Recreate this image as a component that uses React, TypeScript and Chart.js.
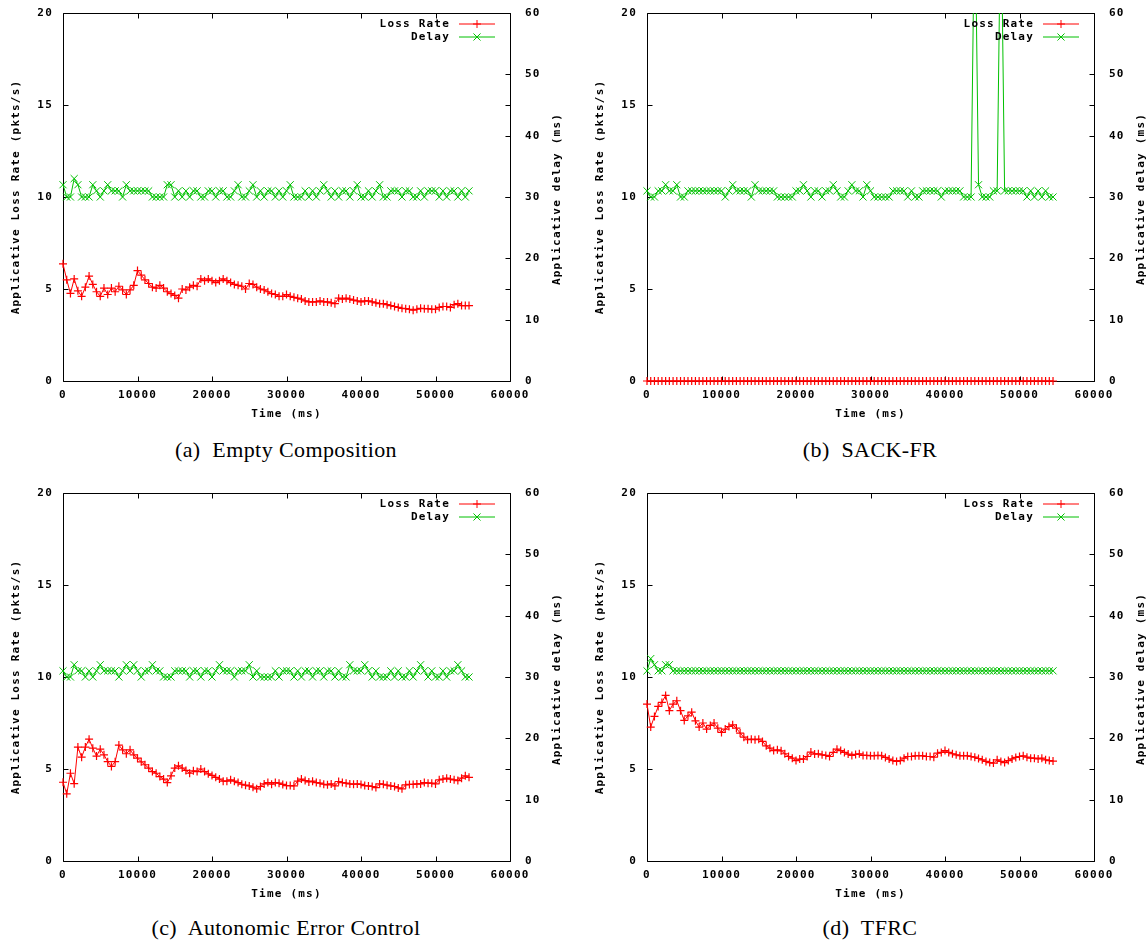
import React, { useEffect, useRef } from 'react';
import { Chart, registerables } from 'chart.js';

Chart.register(...registerables);

// ---------- data ----------
const TIME_MS = [
  0, 500, 1000, 1500, 2000, 2500, 3000, 3500, 4000, 4500,
  5000, 5500, 6000, 6500, 7000, 7500, 8000, 8500, 9000, 9500,
  10000, 10500, 11000, 11500, 12000, 12500, 13000, 13500, 14000, 14500,
  15000, 15500, 16000, 16500, 17000, 17500, 18000, 18500, 19000, 19500,
  20000, 20500, 21000, 21500, 22000, 22500, 23000, 23500, 24000, 24500,
  25000, 25500, 26000, 26500, 27000, 27500, 28000, 28500, 29000, 29500,
  30000, 30500, 31000, 31500, 32000, 32500, 33000, 33500, 34000, 34500,
  35000, 35500, 36000, 36500, 37000, 37500, 38000, 38500, 39000, 39500,
  40000, 40500, 41000, 41500, 42000, 42500, 43000, 43500, 44000, 44500,
  45000, 45500, 46000, 46500, 47000, 47500, 48000, 48500, 49000, 49500,
  50000, 50500, 51000, 51500, 52000, 52500, 53000, 53500, 54000, 54500,
];

const TIME_TICKS = [0, 10000, 20000, 30000, 40000, 50000, 60000];
const LOSS_TICKS = [0, 5, 10, 15, 20];
const DELAY_TICKS = [0, 10, 20, 30, 40, 50, 60];

const SERIES_LABELS = ['Loss Rate', 'Delay'];
const X_TITLE = 'Time (ms)';
const Y_TITLE = 'Applicative Loss Rate (pkts/s)';
const Y2_TITLE = 'Applicative delay (ms)';
const CAPTIONS = [
  '(a)  Empty Composition',
  '(b)  SACK-FR',
  '(c)  Autonomic Error Control',
  '(d)  TFRC',
];

// (a) Empty Composition
const LOSS_A = [
  6.37, 5.5, 4.76, 5.55, 4.9, 4.6, 5.1, 5.7, 5.25, 4.85,
  4.6, 5.05, 4.7, 5.05, 4.85, 5.15, 4.95, 4.7, 4.95, 5.2,
  6.0, 5.75, 5.5, 5.3, 5.1, 5.05, 5.2, 5.05, 4.85, 4.75,
  4.65, 4.5, 5.0, 4.95, 5.1, 5.2, 5.15, 5.55, 5.45, 5.55,
  5.45, 5.35, 5.45, 5.55, 5.45, 5.35, 5.25, 5.2, 5.15, 5.0,
  5.3, 5.25, 5.1, 5.0, 4.95, 4.85, 4.75, 4.7, 4.6, 4.6,
  4.7, 4.6, 4.55, 4.5, 4.45, 4.35, 4.3, 4.3, 4.3, 4.35,
  4.3, 4.3, 4.25, 4.2, 4.5, 4.45, 4.5, 4.45, 4.4, 4.35,
  4.3, 4.35, 4.35, 4.3, 4.25, 4.2, 4.2, 4.15, 4.1, 4.05,
  4.0, 3.95, 3.93, 3.9, 3.85, 3.9, 3.95, 3.93, 3.93, 3.9,
  3.9, 4.0, 4.05, 4.05, 4.0, 4.15, 4.2, 4.1, 4.1, 4.1,
];
const DELAY_A = [
  32, 30, 30, 33, 32, 30, 30, 30, 32, 31,
  30, 31, 32, 31, 31, 31, 30, 32, 31, 31,
  31, 31, 31, 31, 30, 30, 30, 30, 32, 32,
  30, 31, 30, 31, 30, 31, 31, 30, 30, 31,
  31, 30, 31, 31, 30, 30, 31, 32, 30, 30,
  31, 32, 30, 31, 30, 31, 31, 30, 31, 30,
  31, 32, 30, 30, 30, 31, 30, 31, 30, 31,
  32, 31, 30, 31, 30, 31, 31, 30, 31, 32,
  30, 30, 31, 30, 31, 32, 30, 30, 31, 31,
  31, 30, 31, 31, 30, 30, 31, 30, 31, 31,
  31, 30, 31, 30, 31, 31, 30, 31, 30, 31,
];

// (b) SACK-FR
const LOSS_B = [
  0, 0, 0, 0, 0, 0, 0, 0, 0, 0,
  0, 0, 0, 0, 0, 0, 0, 0, 0, 0,
  0, 0, 0, 0, 0, 0, 0, 0, 0, 0,
  0, 0, 0, 0, 0, 0, 0, 0, 0, 0,
  0, 0, 0, 0, 0, 0, 0, 0, 0, 0,
  0, 0, 0, 0, 0, 0, 0, 0, 0, 0,
  0, 0, 0, 0, 0, 0, 0, 0, 0, 0,
  0, 0, 0, 0, 0, 0, 0, 0, 0, 0,
  0, 0, 0, 0, 0, 0, 0, 0, 0, 0,
  0, 0, 0, 0, 0, 0, 0, 0, 0, 0,
  0, 0, 0, 0, 0, 0, 0, 0, 0, 0,
];
const DELAY_B = [
  31, 30, 30, 31, 31, 32, 31, 31, 32, 30,
  30, 31, 31, 31, 31, 31, 31, 31, 31, 31,
  31, 30, 31, 32, 31, 31, 31, 31, 30, 32,
  31, 31, 31, 31, 31, 30, 30, 30, 30, 30,
  31, 31, 32, 31, 30, 31, 31, 30, 31, 31,
  32, 31, 30, 30, 31, 32, 31, 31, 30, 32,
  31, 30, 30, 30, 30, 30, 31, 31, 31, 31,
  30, 31, 30, 30, 31, 31, 31, 31, 31, 30,
  31, 31, 31, 31, 31, 30, 30, 30, 80, 32,
  30, 30, 30, 31, 31, 80, 31, 31, 31, 31,
  31, 31, 30, 31, 30, 31, 30, 31, 30, 30,
];

// (c) Autonomic Error Control
const LOSS_C = [
  4.28, 3.65, 4.77, 4.2, 6.19, 5.64, 6.19, 6.62, 6.13, 5.7,
  6.08, 5.77, 5.4, 5.14, 5.4, 6.3, 6.04, 5.83, 6.04, 5.77,
  5.59, 5.39, 5.23, 5.05, 4.86, 4.77, 4.59, 4.45, 4.26, 4.63,
  5.05, 5.17, 5.05, 4.92, 4.77, 4.9, 4.86, 5.0, 4.86, 4.74,
  4.65, 4.55, 4.45, 4.34, 4.34, 4.41, 4.34, 4.26, 4.17, 4.12,
  4.08, 4.01, 3.92, 4.05, 4.19, 4.26, 4.17, 4.26, 4.23, 4.16,
  4.1, 4.1, 4.08, 4.34, 4.45, 4.37, 4.3, 4.34, 4.26, 4.23,
  4.17, 4.14, 4.19, 4.08, 4.32, 4.26, 4.23, 4.19, 4.17, 4.19,
  4.16, 4.1, 4.08, 4.05, 3.99, 4.19, 4.17, 4.12, 4.08, 4.05,
  3.97, 3.92, 4.14, 4.16, 4.16, 4.19, 4.19, 4.26, 4.23, 4.23,
  4.19, 4.41, 4.45, 4.5, 4.45, 4.41, 4.37, 4.5, 4.63, 4.55,
];
const DELAY_C = [
  31, 30, 30, 32, 31, 31, 30, 31, 30, 31,
  32, 31, 31, 31, 31, 30, 31, 32, 31, 32,
  31, 30, 31, 31, 32, 31, 31, 30, 30, 30,
  31, 31, 31, 31, 30, 31, 31, 30, 31, 31,
  30, 31, 32, 31, 31, 31, 30, 31, 31, 31,
  32, 30, 31, 30, 30, 30, 30, 31, 30, 31,
  31, 31, 30, 31, 30, 31, 31, 30, 31, 31,
  30, 31, 31, 30, 31, 30, 30, 32, 31, 31,
  31, 32, 31, 30, 31, 30, 30, 30, 31, 30,
  31, 30, 30, 31, 30, 31, 32, 31, 30, 31,
  30, 30, 31, 30, 31, 31, 32, 31, 30, 30,
];

// (d) TFRC
const LOSS_D = [
  8.53, 7.28, 7.86, 8.4, 8.62, 9.0, 8.17, 8.53, 8.71, 8.17,
  7.64, 7.89, 8.09, 7.62, 7.28, 7.5, 7.17, 7.37, 7.5, 7.22,
  6.99, 7.17, 7.31, 7.4, 7.22, 6.95, 6.73, 6.59, 6.62, 6.59,
  6.62, 6.5, 6.26, 6.13, 6.0, 6.04, 5.99, 5.83, 5.68, 5.59,
  5.46, 5.54, 5.54, 5.68, 5.92, 5.81, 5.83, 5.77, 5.74, 5.68,
  5.9, 6.08, 6.0, 5.9, 5.81, 5.74, 5.79, 5.83, 5.74, 5.74,
  5.72, 5.72, 5.74, 5.72, 5.63, 5.54, 5.46, 5.41, 5.46, 5.59,
  5.68, 5.68, 5.72, 5.72, 5.72, 5.68, 5.68, 5.64, 5.86, 5.9,
  6.0, 5.9, 5.83, 5.77, 5.72, 5.72, 5.72, 5.68, 5.64, 5.57,
  5.5, 5.41, 5.35, 5.32, 5.5, 5.41, 5.35, 5.46, 5.55, 5.63,
  5.68, 5.72, 5.64, 5.59, 5.59, 5.55, 5.59, 5.5, 5.46, 5.43,
];
const DELAY_D = [
  31, 33, 32, 31, 31, 32, 32, 31, 31, 31,
  31, 31, 31, 31, 31, 31, 31, 31, 31, 31,
  31, 31, 31, 31, 31, 31, 31, 31, 31, 31,
  31, 31, 31, 31, 31, 31, 31, 31, 31, 31,
  31, 31, 31, 31, 31, 31, 31, 31, 31, 31,
  31, 31, 31, 31, 31, 31, 31, 31, 31, 31,
  31, 31, 31, 31, 31, 31, 31, 31, 31, 31,
  31, 31, 31, 31, 31, 31, 31, 31, 31, 31,
  31, 31, 31, 31, 31, 31, 31, 31, 31, 31,
  31, 31, 31, 31, 31, 31, 31, 31, 31, 31,
  31, 31, 31, 31, 31, 31, 31, 31, 31, 31,
];

// ---------- styles ----------
const RED = '#ff0000';
const GREEN = '#00c000';
const MONO = '"DejaVu Sans Mono", "Liberation Mono", monospace';
const FONT = { family: MONO, size: 11, weight: 'bold' as const };
const FONT_CSS = `bold 11px ${MONO}`;
const LETTER_SPACING = '1.2px';
const TICK_LEN = 5;

const PANEL_H = 430;

const noOverhang = (s: any) => {
  s.paddingTop = 0;
  s.paddingBottom = 0;
  s.paddingLeft = 0;
  s.paddingRight = 0;
};

const gnuplotPlugin = {
  id: 'gnuplotLook',
  beforeDraw(chart: any) {
    chart.ctx.letterSpacing = LETTER_SPACING;
  },
  beforeDatasetsDraw(chart: any) {
    const { ctx, chartArea: ca, scales } = chart;
    const L = Math.round(ca.left) + 0.5;
    const R = Math.round(ca.right) + 0.5;
    const T = Math.round(ca.top) + 0.5;
    const B = Math.round(ca.bottom) + 0.5;
    ctx.save();
    ctx.strokeStyle = '#000';
    ctx.lineWidth = 1;
    ctx.beginPath();
    ctx.rect(L, T, R - L, B - T);
    TIME_TICKS.forEach((v) => {
      const px = Math.round(scales.x.getPixelForValue(v)) + 0.5;
      ctx.moveTo(px, B); ctx.lineTo(px, B - TICK_LEN);
      ctx.moveTo(px, T); ctx.lineTo(px, T + TICK_LEN);
    });
    LOSS_TICKS.forEach((v) => {
      const py = Math.round(scales.y.getPixelForValue(v)) + 0.5;
      ctx.moveTo(L, py); ctx.lineTo(L + TICK_LEN, py);
      ctx.moveTo(R, py); ctx.lineTo(R - TICK_LEN, py);
    });
    DELAY_TICKS.forEach((v) => {
      const py = Math.round(scales.y2.getPixelForValue(v)) + 0.5;
      ctx.moveTo(R, py); ctx.lineTo(R - TICK_LEN, py);
    });
    ctx.stroke();
    ctx.restore();
  },
  afterDraw(chart: any) {
    const { ctx, chartArea: ca } = chart;
    ctx.save();
    ctx.letterSpacing = LETTER_SPACING;
    ctx.font = FONT_CSS;
    ctx.fillStyle = '#000';
    // right axis title (reads bottom to top)
    ctx.save();
    ctx.translate(ca.right + 47, (ca.top + ca.bottom) / 2 + 2);
    ctx.rotate(-Math.PI / 2);
    ctx.textAlign = 'center';
    ctx.textBaseline = 'middle';
    ctx.fillText(Y2_TITLE, 0, 0);
    ctx.restore();
    // legend (gnuplot style: text, then line sample with marker)
    chart.data.datasets.forEach((ds: any, k: number) => {
      const y = Math.round(ca.top + 11 + k * 13);
      ctx.textAlign = 'right';
      ctx.textBaseline = 'middle';
      ctx.fillStyle = '#000';
      ctx.fillText(ds.label, ca.right - 60, y);
      ctx.strokeStyle = ds.borderColor;
      ctx.lineWidth = 1;
      ctx.beginPath();
      ctx.moveTo(ca.right - 51, y);
      ctx.lineTo(ca.right - 15, y);
      const mx = ca.right - 33;
      const r = ds.pointRadius;
      if (ds.pointStyle === 'cross') {
        ctx.moveTo(mx - r, y); ctx.lineTo(mx + r, y);
        ctx.moveTo(mx, y - r); ctx.lineTo(mx, y + r);
      } else {
        const d = r * Math.SQRT1_2;
        ctx.moveTo(mx - d, y - d); ctx.lineTo(mx + d, y + d);
        ctx.moveTo(mx - d, y + d); ctx.lineTo(mx + d, y - d);
      }
      ctx.stroke();
    });
    ctx.restore();
  },
};

type PanelProps = {
  left: number;
  top: number;
  width: number;
  loss: number[];
  delay: number[];
};

function Panel({ left, top, width, loss, delay }: PanelProps) {
  const ref = useRef<HTMLCanvasElement | null>(null);
  useEffect(() => {
    if (!ref.current) return;
    const rightW = width - 510;
    const chart = new Chart(ref.current, {
      type: 'line',
      data: {
        datasets: [
          {
            label: SERIES_LABELS[0],
            yAxisID: 'y',
            data: TIME_MS.map((t, i) => ({ x: t, y: loss[i] })),
            borderColor: RED,
            backgroundColor: RED,
            borderWidth: 1,
            pointStyle: 'cross',
            pointRadius: 4,
            pointBorderWidth: 1.2,
            pointBorderColor: RED,
            pointHoverRadius: 4,
            tension: 0,
            fill: false,
            clip: { left: 6, top: 0, right: 6, bottom: 6 },
          },
          {
            label: SERIES_LABELS[1],
            yAxisID: 'y2',
            data: TIME_MS.map((t, i) => ({ x: t, y: delay[i] })),
            borderColor: GREEN,
            backgroundColor: GREEN,
            borderWidth: 1,
            pointStyle: 'crossRot',
            pointRadius: 5,
            pointBorderWidth: 1,
            pointBorderColor: GREEN,
            pointHoverRadius: 5,
            tension: 0,
            fill: false,
            clip: { left: 6, top: 0, right: 6, bottom: 6 },
          },
        ],
      } as any,
      options: {
        responsive: false,
        maintainAspectRatio: false,
        animation: false,
        devicePixelRatio: 1,
        events: [],
        layout: { padding: { top: 13, left: 0, right: 0, bottom: 0 } },
        plugins: { legend: { display: false }, tooltip: { enabled: false } },
        scales: {
          x: {
            type: 'linear',
            position: 'bottom',
            min: 0,
            max: 60000,
            afterBuildTicks: (s: any) => { s.ticks = TIME_TICKS.map((v) => ({ value: v })); },
            afterFit: (s: any) => { s.height = 49; noOverhang(s); },
            ticks: { font: FONT, color: '#000', padding: 8, maxRotation: 0, autoSkip: false, callback: (v: any) => String(v) },
            grid: { display: false, drawTicks: false },
            border: { display: false },
            title: { display: true, text: X_TITLE, font: FONT, color: '#000', padding: { top: 0, bottom: 9 } },
          },
          y: {
            type: 'linear',
            position: 'left',
            min: 0,
            max: 20,
            afterBuildTicks: (s: any) => { s.ticks = LOSS_TICKS.map((v) => ({ value: v })); },
            afterFit: (s: any) => { s.width = 63; noOverhang(s); },
            ticks: { font: FONT, color: '#000', padding: 10, callback: (v: any) => String(v) },
            grid: { display: false, drawTicks: false },
            border: { display: false },
            title: { display: true, text: Y_TITLE, font: FONT, color: '#000', padding: { top: 10, bottom: 0 } },
          },
          y2: {
            type: 'linear',
            position: 'right',
            min: 0,
            max: 60,
            afterBuildTicks: (s: any) => { s.ticks = DELAY_TICKS.map((v) => ({ value: v })); },
            afterFit: (s: any) => { s.width = rightW; noOverhang(s); },
            ticks: { font: FONT, color: '#000', padding: 15, callback: (v: any) => String(v) },
            grid: { display: false, drawTicks: false },
            border: { display: false },
            title: { display: false },
          },
        },
      } as any,
      plugins: [gnuplotPlugin],
    });
    return () => chart.destroy();
  }, []);
  return (
    <canvas
      ref={ref}
      width={width}
      height={PANEL_H}
      style={{ position: 'absolute', left, top, width, height: PANEL_H, display: 'block' }}
    />
  );
}

function Caption({ cx, cy, text }: { cx: number; cy: number; text: string }) {
  return (
    <div
      style={{
        position: 'absolute',
        left: cx - 250,
        top: cy - 13,
        width: 500,
        height: 26,
        lineHeight: '26px',
        textAlign: 'center',
        whiteSpace: 'pre',
        fontFamily: '"Liberation Serif", "Times New Roman", serif',
        fontSize: 22,
        letterSpacing: '0.4px',
        color: '#000',
      }}
    >
      {text}
    </div>
  );
}

export default function App() {
  return (
    <div style={{ position: 'absolute', left: 0, top: 0, width: 1146, height: 944, background: '#fff', overflow: 'hidden' }}>
      <Panel left={0} top={0} width={573} loss={LOSS_A} delay={DELAY_A} />
      <Panel left={584} top={0} width={562} loss={LOSS_B} delay={DELAY_B} />
      <Panel left={0} top={480} width={573} loss={LOSS_C} delay={DELAY_C} />
      <Panel left={584} top={480} width={562} loss={LOSS_D} delay={DELAY_D} />
      <Caption cx={286} cy={450} text={CAPTIONS[0]} />
      <Caption cx={870} cy={450} text={CAPTIONS[1]} />
      <Caption cx={286} cy={928} text={CAPTIONS[2]} />
      <Caption cx={870} cy={928} text={CAPTIONS[3]} />
    </div>
  );
}
